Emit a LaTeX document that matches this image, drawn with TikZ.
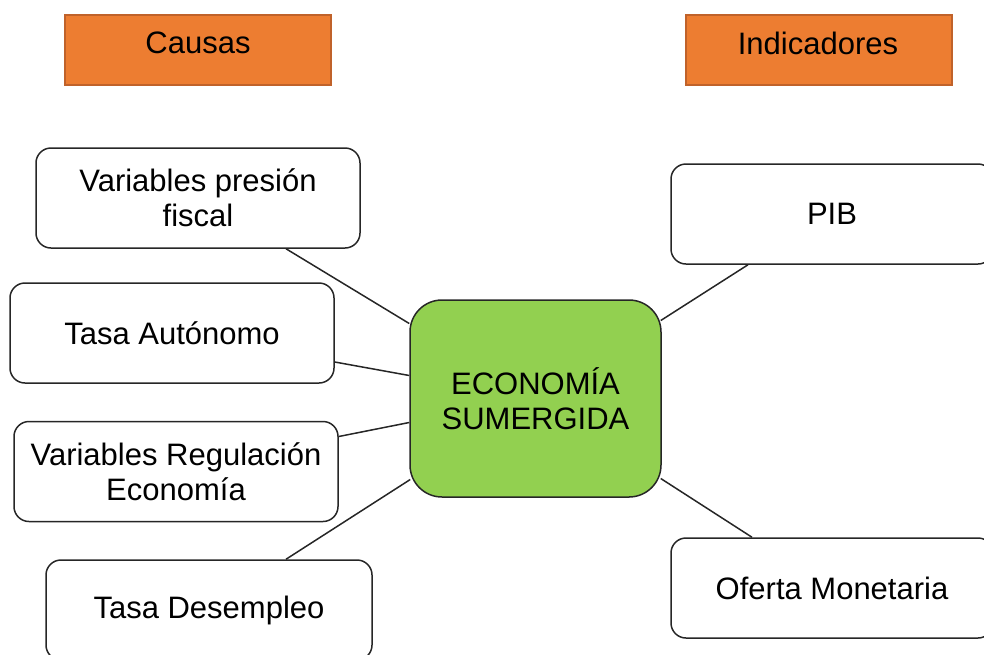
\documentclass[tikz,border=0pt]{standalone}
\usepackage{fontspec}
\setmainfont{Liberation Sans}
\usetikzlibrary{calc}
\definecolor{boxorange}{HTML}{ED7D31}
\definecolor{orangeedge}{HTML}{C0622A}
\definecolor{ecogreen}{HTML}{92D050}
\definecolor{edge}{HTML}{262626}
\tikzset{
  header/.style={draw=orangeedge, line width=1.2pt, fill=boxorange, minimum width=266pt, minimum height=70pt, inner sep=0pt},
  headtext/.style={font=\fontsize{31}{35}\selectfont, text=black, inner sep=0pt},
  item/.style={draw=edge, line width=1.5pt, fill=white, rounded corners=15pt, minimum width=324pt, minimum height=100pt, align=center, inner sep=0pt, font=\fontsize{31}{35}\selectfont},
  center/.style={draw=edge, line width=1.5pt, fill=ecogreen, rounded corners=32pt, minimum width=251pt, minimum height=197pt, align=center, inner sep=0pt, font=\fontsize{31}{35}\selectfont},
  link/.style={draw=edge, line width=1.5pt}
}
\begin{document}
\begin{tikzpicture}[x=1pt,y=-1pt]
\useasboundingbox (0,0) rectangle (984,654);
% headers
\node[header] (causasbox) at (198,50) {};
\node[headtext] (causas) at (198,43) {Causas};
\node[header] (indbox) at (819,50) {};
\node[headtext] (ind) at (818,43) {Indicadores};
% items
\node[item] (vpf) at (198,198) {Variables presión\\fiscal};
\node[item] (ta) at (172,333) {Tasa Autónomo};
\node[item] (reg) at (176,471.5) {Variables Regulación\\Economía};
\node[item, minimum width=326pt] (td) at (209,610) {Tasa Desempleo};
\node[item, minimum width=322pt] (pib) at (832,214) {PIB};
\node[item, minimum width=322pt] (of) at (832,588) {Oferta Monetaria};
% center
\node[center] (eco) at (535.5,398.5) {ECONOMÍA\\SUMERGIDA};
% connectors
\draw[link] ($(vpf.south)+(88,0)$) -- ($(eco.west)+(0,-75)$);
\draw[link] ($(ta.east)+(0,29)$) -- ($(eco.west)+(0,-23)$);
\draw[link] ($(reg.east)+(0,-35)$) -- ($(eco.west)+(0,24)$);
\draw[link] ($(td.north)+(77,0)$) -- ($(eco.west)+(1,81)$);
\draw[link] ($(pib.south)+(-84,0)$) -- ($(eco.east)+(-1,-78)$);
\draw[link] ($(of.north)+(-80,0)$) -- ($(eco.east)+(-1,80)$);
\end{tikzpicture}
\end{document}
